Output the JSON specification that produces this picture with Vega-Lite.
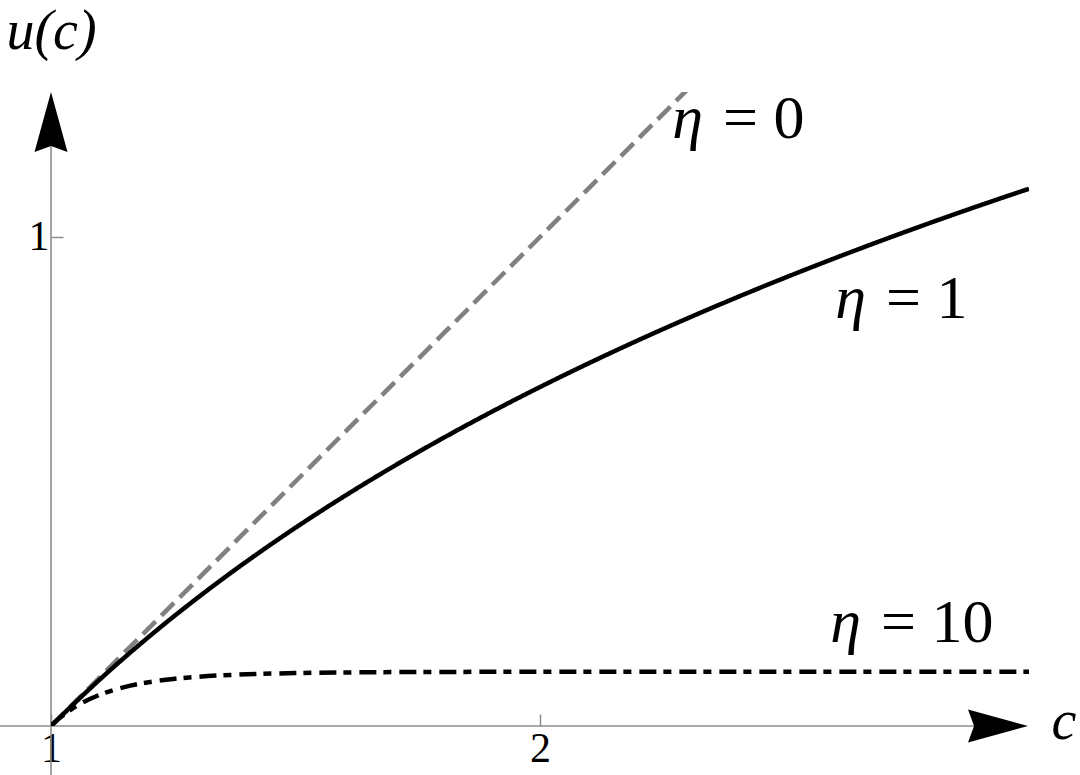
{
  "$schema": "https://vega.github.io/schema/vega-lite/v6.json",
  "width": 978,
  "height": 634,
  "autosize": "none",
  "padding": {"left": 51, "top": 92, "right": 51, "bottom": 49},
  "background": "white",
  "config": {"view": {"stroke": null}, "font": "Liberation Serif"},
  "datasets": {
    "curves": [
      {"c": 1.0, "u": 0.0, "eta": "0"},
      {"c": 2.3, "u": 1.3, "eta": "0"},
      {"c": 1.0, "u": 0.0, "eta": "1"},
      {"c": 1.1, "u": 0.09531, "eta": "1"},
      {"c": 1.2, "u": 0.18232, "eta": "1"},
      {"c": 1.3, "u": 0.26236, "eta": "1"},
      {"c": 1.4, "u": 0.33647, "eta": "1"},
      {"c": 1.5, "u": 0.40547, "eta": "1"},
      {"c": 1.6, "u": 0.47, "eta": "1"},
      {"c": 1.7, "u": 0.53063, "eta": "1"},
      {"c": 1.8, "u": 0.58779, "eta": "1"},
      {"c": 1.9, "u": 0.64185, "eta": "1"},
      {"c": 2.0, "u": 0.69315, "eta": "1"},
      {"c": 2.1, "u": 0.74194, "eta": "1"},
      {"c": 2.2, "u": 0.78846, "eta": "1"},
      {"c": 2.3, "u": 0.83291, "eta": "1"},
      {"c": 2.4, "u": 0.87547, "eta": "1"},
      {"c": 2.5, "u": 0.91629, "eta": "1"},
      {"c": 2.6, "u": 0.95551, "eta": "1"},
      {"c": 2.7, "u": 0.99325, "eta": "1"},
      {"c": 2.8, "u": 1.02962, "eta": "1"},
      {"c": 2.9, "u": 1.06471, "eta": "1"},
      {"c": 3.0, "u": 1.09861, "eta": "1"},
      {"c": 1.0, "u": 0.0, "eta": "10"},
      {"c": 1.01, "u": 0.00952, "eta": "10"},
      {"c": 1.02, "u": 0.01814, "eta": "10"},
      {"c": 1.05, "u": 0.03949, "eta": "10"},
      {"c": 1.1, "u": 0.06399, "eta": "10"},
      {"c": 1.15, "u": 0.07953, "eta": "10"},
      {"c": 1.2, "u": 0.08958, "eta": "10"},
      {"c": 1.25, "u": 0.0962, "eta": "10"},
      {"c": 1.3, "u": 0.10063, "eta": "10"},
      {"c": 1.4, "u": 0.10573, "eta": "10"},
      {"c": 1.5, "u": 0.10822, "eta": "10"},
      {"c": 1.6, "u": 0.10949, "eta": "10"},
      {"c": 1.8, "u": 0.11055, "eta": "10"},
      {"c": 2.0, "u": 0.11089, "eta": "10"},
      {"c": 2.5, "u": 0.11108, "eta": "10"},
      {"c": 3.0, "u": 0.11111, "eta": "10"}
    ],
    "axisLines": [
      {"c": 0.8957, "c2": 2.97, "u": 0, "u2": 0},
      {"c": 1, "c2": 1, "u": -0.1, "u2": 1.27}
    ],
    "arrows": [
      {"c": 1, "u": 1.2965, "dir": "up"},
      {"c": 2.998, "u": 0, "dir": "right"}
    ],
    "labels": [
      {"c": 2.354, "u": 1.2025, "sym": "η", "rest": "= 0"},
      {"c": 2.687, "u": 0.8344, "sym": "η", "rest": "= 1"},
      {"c": 2.677, "u": 0.1718, "sym": "η", "rest": "= 10"}
    ]
  },
  "layer": [
    {
      "data": {"name": "axisLines"},
      "mark": {"type": "rule", "color": "#8c8c8c", "strokeWidth": 1.6},
      "encoding": {
        "x": {
          "field": "c",
          "type": "quantitative",
          "scale": {"domain": [1, 3], "nice": false, "zero": false},
          "axis": {
            "title": "c",
            "titleAngle": 0,
            "titleX": 1000,
            "titleY": 12,
            "titleAlign": "left",
            "titleBaseline": "alphabetic",
            "titleFont": "Liberation Serif",
            "titleFontStyle": "italic",
            "titleFontWeight": "normal",
            "titleFontSize": 56,
            "titleColor": "black",
            "values": [1, 2],
            "domain": false,
            "grid": false,
            "tickSize": -12,
            "tickColor": "#8c8c8c",
            "tickWidth": 1.5,
            "labelFont": "Liberation Serif",
            "labelFontSize": 42,
            "labelColor": "black",
            "labelPadding": 14,
            "labelFlush": false,
            "format": "d"
          }
        },
        "x2": {"field": "c2"},
        "y": {
          "field": "u",
          "type": "quantitative",
          "scale": {"domain": [0, 1.2965], "nice": false, "zero": false},
          "axis": {
            "title": "u(c)",
            "titleAngle": 0,
            "titleX": 0,
            "titleY": -44,
            "titleAlign": "center",
            "titleBaseline": "alphabetic",
            "titleFont": "Liberation Serif",
            "titleFontStyle": "italic",
            "titleFontWeight": "normal",
            "titleFontSize": 56,
            "titleColor": "black",
            "values": [1],
            "domain": false,
            "grid": false,
            "tickSize": -12,
            "tickColor": "#8c8c8c",
            "tickWidth": 1.5,
            "labelFont": "Liberation Serif",
            "labelFontSize": 42,
            "labelColor": "black",
            "labelPadding": 14,
            "format": "d"
          }
        },
        "y2": {"field": "u2"}
      }
    },
    {
      "data": {"name": "curves"},
      "mark": {"type": "line", "strokeWidth": 4.5, "interpolate": "monotone", "clip": true},
      "encoding": {
        "x": {"field": "c", "type": "quantitative"},
        "y": {"field": "u", "type": "quantitative"},
        "detail": {"field": "eta"},
        "color": {
          "field": "eta",
          "type": "nominal",
          "scale": {"domain": ["0", "1", "10"], "range": ["#808080", "#000000", "#000000"]},
          "legend": null
        },
        "strokeDash": {
          "field": "eta",
          "type": "nominal",
          "scale": {"domain": ["0", "1", "10"], "range": [[18, 8], [1, 0], [17, 7, 8, 8]]},
          "legend": null
        }
      }
    },
    {
      "data": {"name": "arrows"},
      "mark": {"type": "point", "filled": true, "color": "black", "opacity": 1, "size": 3600},
      "encoding": {
        "x": {"field": "c", "type": "quantitative"},
        "y": {"field": "u", "type": "quantitative"},
        "shape": {
          "field": "dir",
          "type": "nominal",
          "scale": {
            "domain": ["up", "right"],
            "range": ["M0,0L0.55,2L0,1.8L-0.55,2Z", "M0,0L-2,-0.55L-1.8,0L-2,0.55Z"]
          },
          "legend": null
        }
      }
    },
    {
      "data": {"name": "labels"},
      "mark": {"type": "text", "align": "right", "baseline": "alphabetic", "fontStyle": "italic", "fontSize": 62, "dx": -10, "color": "black"},
      "encoding": {
        "x": {"field": "c", "type": "quantitative"},
        "y": {"field": "u", "type": "quantitative"},
        "text": {"field": "sym"}
      }
    },
    {
      "data": {"name": "labels"},
      "mark": {"type": "text", "align": "left", "baseline": "alphabetic", "fontSize": 62, "dx": 10, "color": "black"},
      "encoding": {
        "x": {"field": "c", "type": "quantitative"},
        "y": {"field": "u", "type": "quantitative"},
        "text": {"field": "rest"}
      }
    }
  ]
}
